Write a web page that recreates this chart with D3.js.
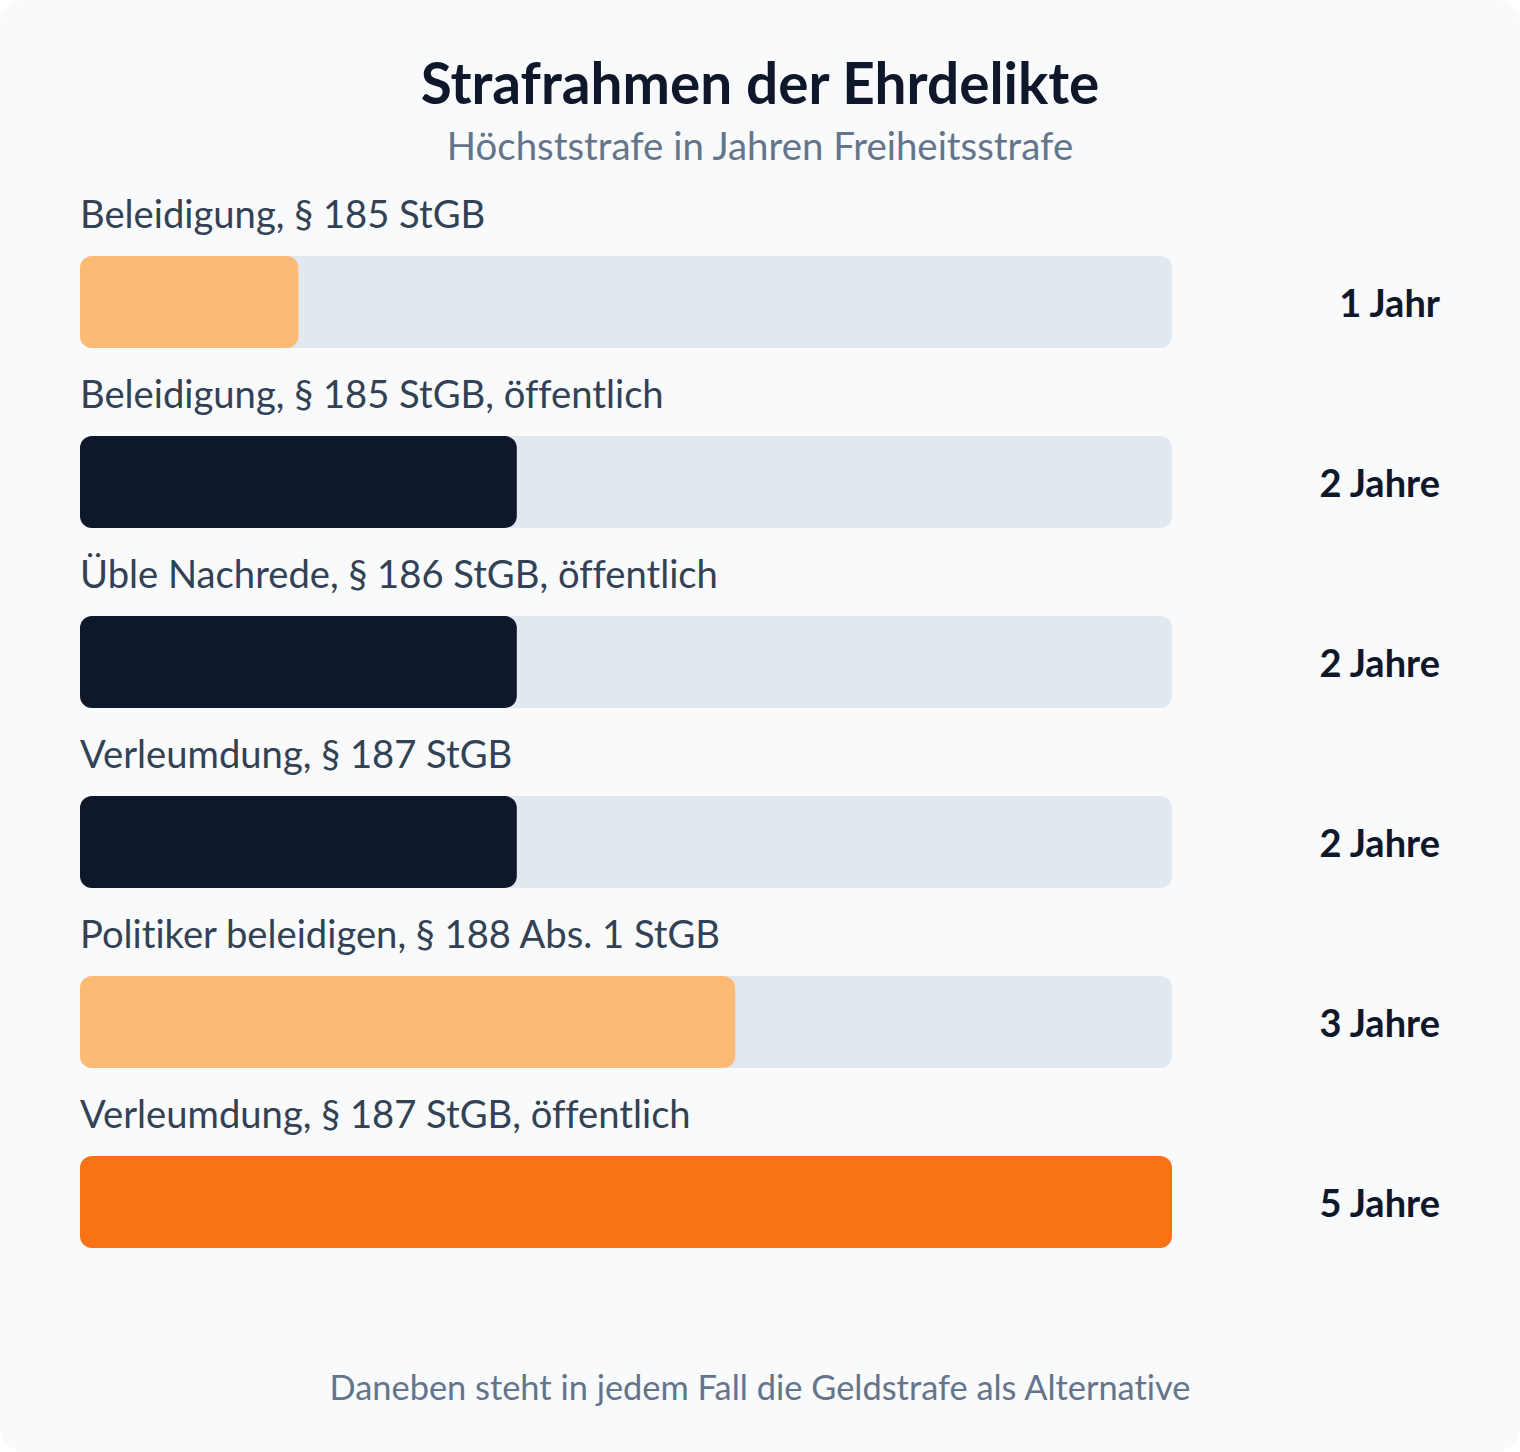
<!DOCTYPE html>
<html>
<head>
<meta charset="utf-8">
<script src="https://cdn.jsdelivr.net/npm/d3@7"></script>
<style>
  html, body { margin: 0; padding: 0; background: #ffffff; }
  svg { display: block; font-family: Lato, "Noto Sans", sans-serif; font-variant-ligatures: none; }
</style>
</head>
<body>
<svg width="1520" height="1452"></svg>
<script>
// chart data
const categories = [
    "Beleidigung, § 185 StGB",
    "Beleidigung, § 185 StGB, öffentlich",
    "Üble Nachrede, § 186 StGB, öffentlich",
    "Verleumdung, § 187 StGB",
    "Politiker beleidigen, § 188 Abs. 1 StGB",
    "Verleumdung, § 187 StGB, öffentlich"
];
const years = [1, 2, 2, 2, 3, 5];
const valueLabels = ["1 Jahr", "2 Jahre", "2 Jahre", "2 Jahre", "3 Jahre", "5 Jahre"];
const groups = ["light", "dark", "dark", "dark", "light", "strong"];

const title = "Strafrahmen der Ehrdelikte";
const subtitle = "Höchststrafe in Jahren Freiheitsstrafe";
const footnote = "Daneben steht in jedem Fall die Geldstrafe als Alternative";

const W = 1520, H = 1452;
const svg = d3.select("svg");

// card background
svg.append("rect")
    .attr("width", W)
    .attr("height", H)
    .attr("rx", 24)
    .attr("fill", "#f8fafc");

const x = d3.scaleLinear().domain([0, 5]).range([80, 1172]);
const y = d3.scaleBand()
    .domain(categories)
    .range([256, 256 + 5 * 180 + 92])
    .paddingInner(88 / 180)
    .paddingOuter(0);
const color = d3.scaleOrdinal()
    .domain(["light", "dark", "strong"])
    .range(["#fdba74", "#0f172a", "#f97316"]);

// title + subtitle
svg.append("text")
    .attr("x", W / 2)
    .attr("y", 104)
    .attr("text-anchor", "middle")
    .attr("font-size", 56.7)
    .attr("font-weight", 700)
    .attr("fill", "#0f172a")
    .text(title);

svg.append("text")
    .attr("x", W / 2)
    .attr("y", 160)
    .attr("text-anchor", "middle")
    .attr("font-size", 38.4)
    .attr("fill", "#64748b")
    .text(subtitle);

const rows = svg.selectAll("g.row")
    .data(categories)
    .join("g")
    .attr("class", "row");

// track
rows.append("rect")
    .attr("x", x(0))
    .attr("y", d => y(d))
    .attr("width", x(5) - x(0))
    .attr("height", y.bandwidth())
    .attr("rx", 12)
    .attr("fill", "#e2e8f0");

// bar
rows.append("rect")
    .attr("x", x(0))
    .attr("y", d => y(d))
    .attr("width", (d, i) => x(years[i]) - x(0))
    .attr("height", y.bandwidth())
    .attr("rx", 12)
    .attr("fill", (d, i) => color(groups[i]));

// category label
rows.append("text")
    .attr("x", x(0))
    .attr("y", d => y(d) - 28)
    .attr("font-size", 38.2)
    .attr("fill", "#334155")
    .text(d => d);

// value label
rows.append("text")
    .attr("x", 1440)
    .attr("y", d => y(d) + y.bandwidth() / 2 + 2)
    .attr("dy", "0.35em")
    .attr("text-anchor", "end")
    .attr("font-size", 38)
    .attr("font-weight", 700)
    .attr("fill", "#0f172a")
    .text((d, i) => valueLabels[i]);

// footnote
svg.append("text")
    .attr("x", W / 2)
    .attr("y", 1400)
    .attr("text-anchor", "middle")
    .attr("font-size", 34.4)
    .attr("fill", "#64748b")
    .text(footnote);
</script>
</body>
</html>
